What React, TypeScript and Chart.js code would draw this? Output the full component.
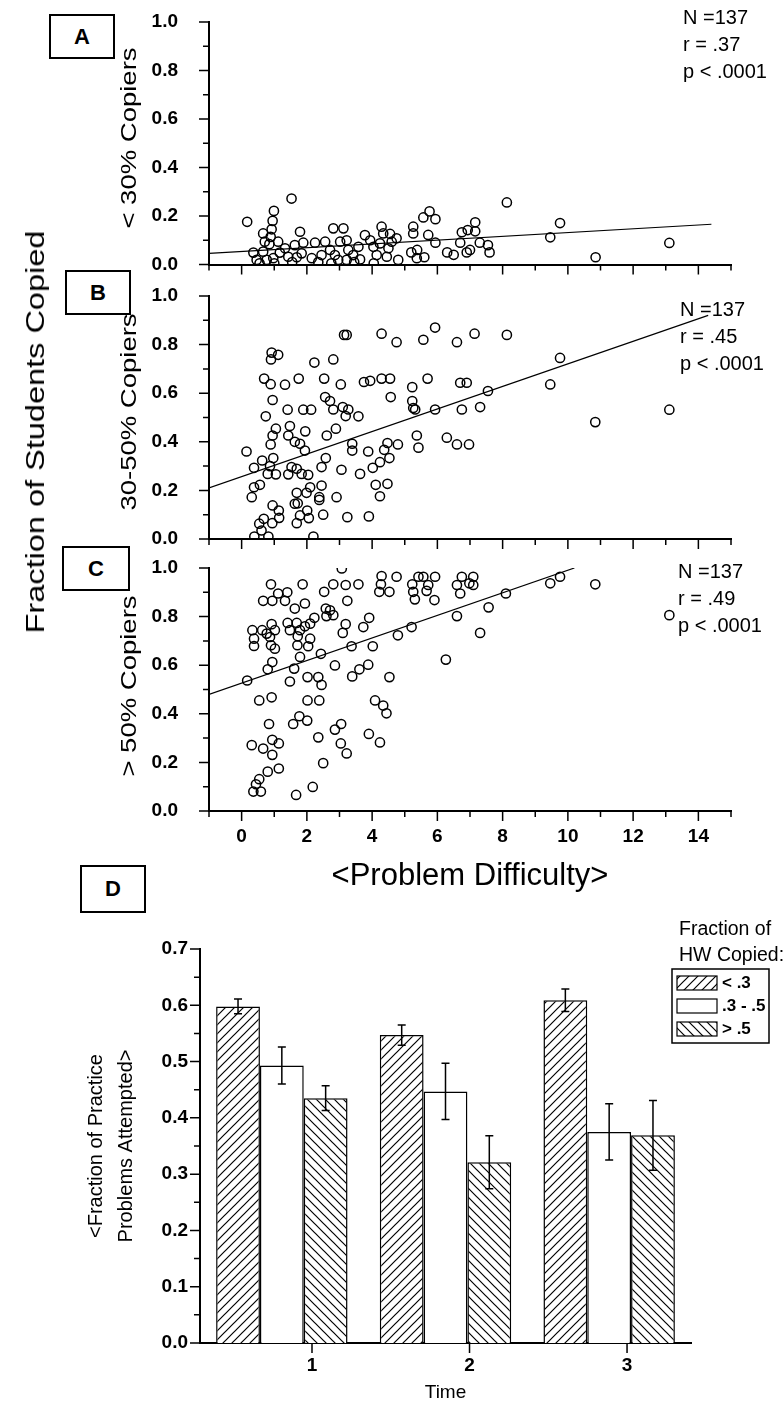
import React, { useEffect, useRef } from 'react';
import { Chart, registerables } from 'chart.js';

Chart.register(...registerables);

const FONT = "'Liberation Sans', Arial, Helvetica, sans-serif";

// ---------------- Data ----------------
// Panel A: < 30% copiers  [difficulty, fraction]
const panelAPoints: [number, number][] = [
  [0.17, 0.176], [1.53, 0.272], [0.99, 0.221], [0.95, 0.18], [0.92, 0.145], [0.89, 0.114], [0.85, 0.084],
  [0.66, 0.128], [0.71, 0.094], [0.66, 0.053], [0.36, 0.049], [0.46, 0.019], [0.77, 0.019], [0.97, 0.026],
  [1.12, 0.094], [1.17, 0.049], [1.79, 0.135], [1.33, 0.067], [1.43, 0.032], [1.69, 0.03], [1.63, 0.08],
  [1.89, 0.09], [1.84, 0.046], [2.15, 0.026], [2.25, 0.09], [2.45, 0.039], [2.56, 0.094], [2.71, 0.06],
  [2.86, 0.039], [2.96, 0.019], [2.81, 0.149], [3.12, 0.149], [3.02, 0.094], [3.22, 0.1], [3.27, 0.06],
  [3.22, 0.019], [3.42, 0.039], [3.58, 0.073], [3.63, 0.021], [3.78, 0.121], [3.94, 0.1], [4.04, 0.073],
  [4.14, 0.039], [4.29, 0.156], [4.24, 0.087], [4.34, 0.128], [4.45, 0.032], [4.5, 0.067], [4.6, 0.094],
  [4.75, 0.108], [4.8, 0.019], [5.26, 0.156], [5.26, 0.128], [5.37, 0.026], [4.55, 0.126],
  [5.57, 0.194], [5.76, 0.219], [5.94, 0.187], [5.72, 0.122], [7.16, 0.174], [6.93, 0.142], [6.75, 0.133],
  [7.16, 0.137], [5.94, 0.09], [5.38, 0.06], [6.3, 0.05], [6.7, 0.09], [7.0, 0.06], [7.3, 0.09], [7.6, 0.05],
  [8.13, 0.256], [9.76, 0.171], [9.46, 0.112], [13.11, 0.089], [7.55, 0.08], [10.85, 0.03],
  [0.55, 0.005], [1.0, 0.005], [1.55, 0.01], [2.35, 0.01], [2.75, 0.005], [3.45, 0.01], [4.05, 0.005],
  [5.6, 0.03], [6.5, 0.04], [6.9, 0.05], [5.2, 0.05],
];
const panelALine: [number, number][] = [[-1, 0.046], [14.4, 0.166]];
const panelAStats = ['N =137', 'r = .37', 'p < .0001'];

// Panel B: 30-50% copiers
const panelBPoints: [number, number][] = [
  [3.14, 0.84], [3.22, 0.84], [4.29, 0.845], [4.75, 0.81], [5.57, 0.82], [5.93, 0.87], [6.6, 0.81], [7.14, 0.845],
  [0.92, 0.767], [1.12, 0.758], [0.9, 0.739], [2.23, 0.726], [2.81, 0.739],
  [0.69, 0.66], [0.89, 0.637], [1.33, 0.635], [1.75, 0.66], [2.53, 0.66], [3.04, 0.636], [3.75, 0.646],
  [3.94, 0.651], [4.29, 0.66], [4.55, 0.66], [5.23, 0.625], [5.7, 0.66], [6.7, 0.643], [6.9, 0.643],
  [0.95, 0.572], [2.56, 0.584], [2.71, 0.568], [2.81, 0.533], [1.89, 0.532], [2.13, 0.532], [1.41, 0.532],
  [3.1, 0.543], [3.27, 0.533], [3.19, 0.506], [3.58, 0.505], [4.57, 0.584], [5.23, 0.568], [5.32, 0.533],
  [5.26, 0.539], [5.93, 0.533], [6.75, 0.533], [7.31, 0.543],
  [0.74, 0.505], [1.05, 0.454], [0.95, 0.426], [0.89, 0.389], [1.48, 0.465], [1.43, 0.426], [1.95, 0.443],
  [2.89, 0.454], [2.61, 0.426], [1.63, 0.4], [1.79, 0.392], [1.94, 0.364], [0.15, 0.36], [0.63, 0.323],
  [0.97, 0.333], [0.87, 0.3], [0.38, 0.293], [0.8, 0.268], [1.05, 0.266], [1.43, 0.266], [1.53, 0.296],
  [1.69, 0.289], [1.84, 0.268], [2.04, 0.264], [2.58, 0.333], [2.45, 0.296], [3.06, 0.285], [3.39, 0.392],
  [3.39, 0.364], [3.88, 0.36], [3.63, 0.268], [4.02, 0.293], [4.24, 0.316], [4.53, 0.333], [4.37, 0.367],
  [4.47, 0.395], [4.79, 0.389], [5.37, 0.426], [5.42, 0.376], [6.29, 0.417], [6.6, 0.389], [6.97, 0.389],
  [4.11, 0.223], [4.47, 0.227], [4.24, 0.176], [0.56, 0.223], [0.38, 0.213], [0.31, 0.172], [1.69, 0.19],
  [1.63, 0.145], [1.72, 0.147], [1.99, 0.19], [2.1, 0.213], [2.45, 0.22], [2.38, 0.172], [2.38, 0.161],
  [2.91, 0.172], [0.95, 0.138], [1.14, 0.117], [1.15, 0.087], [0.68, 0.083], [0.54, 0.063], [0.94, 0.065],
  [0.61, 0.035], [0.39, 0.01], [0.82, 0.01], [1.69, 0.065], [1.79, 0.097], [2.01, 0.117], [2.06, 0.086],
  [2.5, 0.1], [2.2, 0.01], [3.24, 0.09], [3.9, 0.093],
  [8.13, 0.84], [9.76, 0.745], [7.55, 0.609], [9.46, 0.636], [10.84, 0.481], [13.11, 0.532],
];
const panelBLine: [number, number][] = [[-1, 0.21], [14.3, 0.92]];
const panelBStats = ['N =137', 'r = .45', 'p < .0001'];

// Panel C: > 50% copiers
const panelCPoints: [number, number][] = [
  [3.07, 0.998], [4.29, 0.967], [4.27, 0.933], [4.22, 0.902], [4.53, 0.902], [4.75, 0.964], [0.9, 0.933],
  [1.87, 0.933], [2.81, 0.933], [3.19, 0.93], [3.58, 0.933], [2.53, 0.902], [1.12, 0.895], [1.4, 0.9],
  [0.66, 0.865], [0.94, 0.865], [1.33, 0.865], [1.94, 0.854], [3.24, 0.865], [1.63, 0.833], [2.58, 0.833],
  [2.71, 0.826], [2.6, 0.802], [2.81, 0.806], [2.23, 0.795], [3.91, 0.795],
  [5.23, 0.933], [5.42, 0.964], [5.57, 0.964], [5.93, 0.964], [5.72, 0.93], [5.26, 0.902], [5.67, 0.906],
  [5.31, 0.871], [5.91, 0.868], [6.6, 0.93], [6.75, 0.964], [6.98, 0.937], [7.1, 0.964], [7.1, 0.93],
  [6.7, 0.895], [6.6, 0.802], [7.31, 0.733], [5.21, 0.757], [4.79, 0.723], [3.73, 0.757], [6.26, 0.623],
  [4.02, 0.678], [3.37, 0.678], [3.1, 0.733], [3.19, 0.769], [2.43, 0.647],
  [0.33, 0.744], [0.38, 0.709], [0.38, 0.679], [0.63, 0.744], [0.92, 0.769], [0.87, 0.716], [1.02, 0.744],
  [0.9, 0.682], [1.02, 0.668], [0.77, 0.73],
  [1.41, 0.774], [1.48, 0.744], [1.69, 0.774], [1.79, 0.744], [1.94, 0.76], [1.72, 0.719], [2.1, 0.771],
  [2.1, 0.709], [2.04, 0.678], [1.71, 0.682],
  [1.79, 0.634], [1.61, 0.586], [1.48, 0.533], [0.94, 0.613], [0.8, 0.583], [0.17, 0.537], [2.86, 0.599],
  [2.02, 0.551], [2.35, 0.551], [2.45, 0.519], [3.39, 0.554], [3.61, 0.583], [3.88, 0.602], [4.53, 0.551],
  [0.54, 0.455], [0.92, 0.468], [2.02, 0.455], [2.38, 0.455], [4.09, 0.455], [4.34, 0.434], [4.44, 0.402],
  [1.77, 0.39], [1.58, 0.358], [2.01, 0.372], [0.84, 0.358], [3.05, 0.358], [2.86, 0.335], [3.9, 0.317],
  [4.24, 0.282], [2.35, 0.303], [0.31, 0.271], [0.66, 0.257], [0.94, 0.293], [1.14, 0.278], [0.94, 0.231],
  [3.04, 0.278], [3.22, 0.237], [2.5, 0.197], [0.8, 0.162], [1.14, 0.175], [0.54, 0.131], [0.44, 0.11],
  [0.36, 0.08], [0.59, 0.08], [1.67, 0.066], [2.18, 0.099],
  [9.46, 0.937], [9.76, 0.964], [10.84, 0.933], [8.1, 0.895], [7.57, 0.838], [13.11, 0.806],
];
const panelCLine: [number, number][] = [[-1, 0.48], [10.2, 1.0]];
const panelCStats = ['N =137', 'r = .49', 'p < .0001'];

const difficultyTickLabels = [0, 2, 4, 6, 8, 10, 12, 14];

// Panel D: bar chart
const timeLabels = ['1', '2', '3'];
const lowCopyMeans = [0.598, 0.547, 0.609];
const lowCopyErrors = [0.013, 0.018, 0.02];
const midCopyMeans = [0.493, 0.447, 0.375];
const midCopyErrors = [0.033, 0.05, 0.05];
const highCopyMeans = [0.435, 0.321, 0.369];
const highCopyErrors = [0.022, 0.047, 0.062];
const legendLabels = ['< .3', '.3 - .5', '> .5'];
const legendTitle = ['Fraction of', 'HW Copied:'];

// ---------------- Helpers ----------------
function makeHatch(ctx: CanvasRenderingContext2D, forward: boolean): CanvasPattern | string {
  const s = 9;
  const c = document.createElement('canvas');
  c.width = s;
  c.height = s;
  const g = c.getContext('2d')!;
  g.fillStyle = '#fff';
  g.fillRect(0, 0, s, s);
  g.strokeStyle = '#000';
  g.lineWidth = 1.2;
  g.beginPath();
  if (forward) {
    g.moveTo(-1, s + 1); g.lineTo(s + 1, -1);
    g.moveTo(-1, 1); g.lineTo(1, -1);
    g.moveTo(s - 1, s + 1); g.lineTo(s + 1, s - 1);
  } else {
    g.moveTo(-1, -1); g.lineTo(s + 1, s + 1);
    g.moveTo(-1, s - 1); g.lineTo(1, s + 1);
    g.moveTo(s - 1, -1); g.lineTo(s + 1, 1);
  }
  g.stroke();
  return ctx.createPattern(c, 'repeat') || '#fff';
}

function tickPlugin(xId: string, xMajor: (v: number) => boolean, yMajor: (v: number) => boolean) {
  return {
    id: 'customTicks',
    afterDraw(chart: any) {
      const ctx = chart.ctx;
      const xs = chart.scales[xId];
      const ys = chart.scales.y;
      const { bottom, left } = chart.chartArea;
      ctx.save();
      ctx.strokeStyle = '#000';
      ctx.lineWidth = 1.5;
      ctx.beginPath();
      xs.ticks.forEach((t: any, i: number) => {
        const px = xs.getPixelForTick(i);
        const len = xMajor(t.value) ? 10 : 6;
        ctx.moveTo(px, bottom);
        ctx.lineTo(px, bottom + len);
      });
      ys.ticks.forEach((t: any, i: number) => {
        const py = ys.getPixelForTick(i);
        const len = yMajor(t.value) ? 10 : 6;
        ctx.moveTo(left, py);
        ctx.lineTo(left - len, py);
      });
      ctx.stroke();
      ctx.restore();
    },
  };
}

const tickFont = { family: FONT, size: 19, weight: 'bold' as const };

const fixX = (h: number) => (s: any) => {
  s.height = h;
  s.paddingLeft = 0;
  s.paddingRight = 0;
};
const fixY = (w: number) => (s: any) => {
  s.width = w;
  s.paddingTop = 0;
  s.paddingBottom = 0;
};

function buildScatter(
  canvas: HTMLCanvasElement,
  points: [number, number][],
  line: [number, number][],
  padTop: number,
  xAxisHeight: number,
  showXLabels: boolean
) {
  return new Chart(canvas, {
    type: 'scatter',
    data: {
      datasets: [
        {
          type: 'scatter',
          data: points.map(([x, y]) => ({ x, y })),
          pointRadius: 4.6,
          pointBorderWidth: 1.5,
          pointBorderColor: '#000',
          pointBackgroundColor: 'rgba(0,0,0,0)',
          borderColor: '#000',
          backgroundColor: 'rgba(0,0,0,0)',
          pointStyle: 'circle',
        } as any,
        {
          type: 'line',
          data: line.map(([x, y]) => ({ x, y })),
          borderColor: '#000',
          borderWidth: 1.2,
          pointRadius: 0,
          fill: false,
          tension: 0,
        } as any,
      ],
    },
    options: {
      animation: false,
      responsive: false,
      devicePixelRatio: 1,
      events: [],
      layout: { autoPadding: false, padding: { top: padTop, right: 53, left: 0, bottom: 0 } },
      plugins: { legend: { display: false }, tooltip: { enabled: false } },
      scales: {
        x: {
          type: 'linear',
          min: -1,
          max: 15,
          grid: { display: false, drawTicks: false },
          border: { display: true, color: '#000', width: 2 },
          ticks: {
            stepSize: 1,
            autoSkip: false,
            maxRotation: 0,
            padding: 14,
            color: '#000',
            font: tickFont,
            callback: (v: any) =>
              showXLabels && difficultyTickLabels.includes(Number(v)) ? String(v) : '',
          },
          title: showXLabels
            ? {
                display: true,
                text: '<Problem Difficulty>',
                color: '#000',
                font: { family: FONT, size: 31 },
                padding: { top: 0, bottom: 6 },
              }
            : { display: false },
          afterFit: fixX(xAxisHeight),
        },
        y: {
          type: 'linear',
          min: 0,
          max: 1,
          grid: { display: false, drawTicks: false },
          border: { display: true, color: '#000', width: 2 },
          ticks: {
            stepSize: 0.1,
            autoSkip: false,
            padding: 31,
            color: '#000',
            font: tickFont,
            callback: (v: any) => {
              const k = Math.round(Number(v) * 10);
              return k % 2 === 0 ? (k / 10).toFixed(1) : '';
            },
          },
          afterFit: fixY(209),
        },
      },
    } as any,
    plugins: [
      tickPlugin(
        'x',
        (v) => Math.round(v) % 2 === 0,
        (v) => Math.round(v * 10) % 2 === 0
      ),
    ],
  });
}

function buildBars(canvas: HTMLCanvasElement) {
  const ctx = canvas.getContext('2d')!;
  const fwd = makeHatch(ctx, true);
  const back = makeHatch(ctx, false);
  const fills = [fwd, '#fff', back];

  const errorBarPlugin = {
    id: 'errorBars',
    afterDatasetsDraw(chart: any) {
      const c = chart.ctx;
      const ys = chart.scales.y;
      c.save();
      c.strokeStyle = '#000';
      c.lineWidth = 1.5;
      chart.data.datasets.forEach((ds: any, di: number) => {
        const meta = chart.getDatasetMeta(di);
        meta.data.forEach((bar: any, j: number) => {
          const v = ds.data[j];
          const e = ds.errors[j];
          const yt = ys.getPixelForValue(v + e);
          const yb = ys.getPixelForValue(v - e);
          const x = bar.x;
          c.beginPath();
          c.moveTo(x, yt); c.lineTo(x, yb);
          c.moveTo(x - 4, yt); c.lineTo(x + 4, yt);
          c.moveTo(x - 4, yb); c.lineTo(x + 4, yb);
          c.stroke();
        });
      });
      c.restore();
    },
  };

  const legendPlugin = {
    id: 'hwLegend',
    afterDraw(chart: any) {
      const c = chart.ctx;
      const top = 900;
      c.save();
      c.fillStyle = '#000';
      c.textBaseline = 'middle';
      c.textAlign = 'left';
      c.font = `19.5px ${FONT}`;
      c.fillText(legendTitle[0], 679, 930 - top);
      c.fillText(legendTitle[1], 679, 956 - top);
      c.strokeStyle = '#000';
      c.lineWidth = 1.5;
      c.strokeRect(672, 969 - top, 97, 74);
      const rowsY = [983, 1006, 1029];
      c.font = `bold 17px ${FONT}`;
      rowsY.forEach((ry, i) => {
        const y = ry - top;
        c.fillStyle = fills[i];
        c.fillRect(677, y - 7, 40, 14);
        c.lineWidth = 1.2;
        c.strokeRect(677, y - 7, 40, 14);
        c.fillStyle = '#000';
        c.fillText(legendLabels[i], 722, y);
      });
      c.restore();
    },
  };

  const mk = (label: string, data: number[], errors: number[], bg: any) =>
    ({
      label,
      data,
      errors,
      backgroundColor: bg,
      borderColor: '#000',
      borderWidth: 1.5,
      categoryPercentage: 0.803,
      barPercentage: 1,
      xAxisID: 'x',
    } as any);

  return new Chart(canvas, {
    type: 'bar',
    data: {
      labels: timeLabels,
      datasets: [
        mk(legendLabels[0], lowCopyMeans, lowCopyErrors, fwd),
        mk(legendLabels[1], midCopyMeans, midCopyErrors, '#fff'),
        mk(legendLabels[2], highCopyMeans, highCopyErrors, back),
      ],
    },
    options: {
      animation: false,
      responsive: false,
      devicePixelRatio: 1,
      events: [],
      layout: { autoPadding: false, padding: { top: 49, right: 93, left: 0, bottom: 0 } },
      plugins: { legend: { display: false }, tooltip: { enabled: false } },
      scales: {
        // category axis that places the bar groups
        x: {
          type: 'category',
          offset: true,
          display: false,
          grid: { display: false },
        },
        // axis that carries the "Time" tick marks and labels
        x2: {
          type: 'linear',
          position: 'bottom',
          offset: false,
          min: 0.289,
          max: 3.406,
          grid: { display: false, drawTicks: false, offset: false },
          border: { display: true, color: '#000', width: 2 },
          ticks: {
            stepSize: 1,
            includeBounds: false,
            color: '#000',
            font: tickFont,
            padding: 11,
            autoSkip: false,
            maxRotation: 0,
            callback: (v: any) => {
              const s = String(v);
              return timeLabels.includes(s) ? s : '';
            },
          },
          title: {
            display: true,
            text: 'Time',
            color: '#000',
            font: { family: FONT, size: 19 },
            padding: { top: 0, bottom: 6 },
          },
          afterFit: fixX(67),
        },
        y: {
          min: 0,
          max: 0.7,
          grid: { display: false, drawTicks: false },
          border: { display: true, color: '#000', width: 2 },
          ticks: {
            stepSize: 0.05,
            autoSkip: false,
            padding: 12,
            color: '#000',
            font: tickFont,
            callback: (v: any) => {
              const k = Math.round(Number(v) * 100);
              return k % 10 === 0 ? (k / 100).toFixed(1) : '';
            },
          },
          title: {
            display: true,
            text: ['<Fraction of Practice', 'Problems Attempted>'],
            color: '#000',
            font: { family: FONT, size: 20, lineHeight: 1.5 },
            padding: { top: 81, bottom: 0 },
          },
          afterFit: fixY(200),
        },
      },
    } as any,
    plugins: [
      tickPlugin('x2', () => true, (v) => Math.round(v * 100) % 10 === 0),
      errorBarPlugin,
      legendPlugin,
    ],
  });
}

// ---------------- Overlay pieces ----------------
const boxStyle = (left: number, top: number, w: number, h: number): React.CSSProperties => ({
  position: 'absolute',
  left,
  top,
  width: w,
  height: h,
  boxSizing: 'border-box',
  border: '2px solid #000',
  background: '#fff',
  display: 'flex',
  alignItems: 'center',
  justifyContent: 'center',
  fontFamily: FONT,
  fontWeight: 'bold',
  fontSize: 22,
  color: '#000',
  zIndex: 2,
});

const statsStyle = (left: number, top: number): React.CSSProperties => ({
  position: 'absolute',
  left,
  top,
  fontFamily: FONT,
  fontSize: 20,
  lineHeight: '27px',
  color: '#000',
  whiteSpace: 'nowrap',
  zIndex: 2,
});

const rotatedStyle = (
  cx: number,
  cy: number,
  size: number,
  stretch: number
): React.CSSProperties => ({
  position: 'absolute',
  left: cx,
  top: cy,
  transform: `translate(-50%, -50%) rotate(-90deg) scaleX(${stretch})`,
  fontFamily: FONT,
  fontSize: size,
  lineHeight: 1,
  whiteSpace: 'nowrap',
  color: '#000',
  zIndex: 1,
});

export default function App() {
  const aRef = useRef<HTMLCanvasElement>(null);
  const bRef = useRef<HTMLCanvasElement>(null);
  const cRef = useRef<HTMLCanvasElement>(null);
  const dRef = useRef<HTMLCanvasElement>(null);

  useEffect(() => {
    const charts: Chart[] = [];
    if (aRef.current) charts.push(buildScatter(aRef.current, panelAPoints, panelALine, 22, 15.5, false));
    if (bRef.current) charts.push(buildScatter(bRef.current, panelBPoints, panelBLine, 16, 21, false));
    if (cRef.current) charts.push(buildScatter(cRef.current, panelCPoints, panelCLine, 12, 90, true));
    if (dRef.current) charts.push(buildBars(dRef.current));
    return () => charts.forEach((c) => c.destroy());
  }, []);

  const canvasStyle = (top: number): React.CSSProperties => ({
    position: 'absolute',
    left: 0,
    top,
    display: 'block',
  });

  return (
    <div
      style={{
        position: 'absolute',
        left: 0,
        top: 0,
        width: 784,
        height: 1410,
        background: '#fff',
        overflow: 'hidden',
      }}
    >
      <canvas ref={aRef} width={784} height={280} style={canvasStyle(0)} />
      <canvas ref={bRef} width={784} height={280} style={canvasStyle(280)} />
      <canvas ref={cRef} width={784} height={345} style={canvasStyle(556)} />
      <canvas ref={dRef} width={784} height={510} style={canvasStyle(900)} />

      <div style={rotatedStyle(35, 432, 26, 1.25)}>Fraction of Students Copied</div>
      <div style={rotatedStyle(129, 138, 22, 1.25)}>&lt; 30% Copiers</div>
      <div style={rotatedStyle(129, 412, 22, 1.25)}>30-50% Copiers</div>
      <div style={rotatedStyle(129, 686, 22, 1.25)}>&gt; 50% Copiers</div>

      <div style={boxStyle(49, 14, 66, 45)}>A</div>
      <div style={boxStyle(65, 270, 66, 45)}>B</div>
      <div style={boxStyle(62, 546, 68, 45)}>C</div>
      <div style={boxStyle(80, 865, 66, 48)}>D</div>

      <div style={statsStyle(683, 4)}>
        {panelAStats.map((s) => (
          <div key={s}>{s}</div>
        ))}
      </div>
      <div style={statsStyle(680, 296)}>
        {panelBStats.map((s) => (
          <div key={s}>{s}</div>
        ))}
      </div>
      <div style={statsStyle(678, 558)}>
        {panelCStats.map((s) => (
          <div key={s}>{s}</div>
        ))}
      </div>
    </div>
  );
}
